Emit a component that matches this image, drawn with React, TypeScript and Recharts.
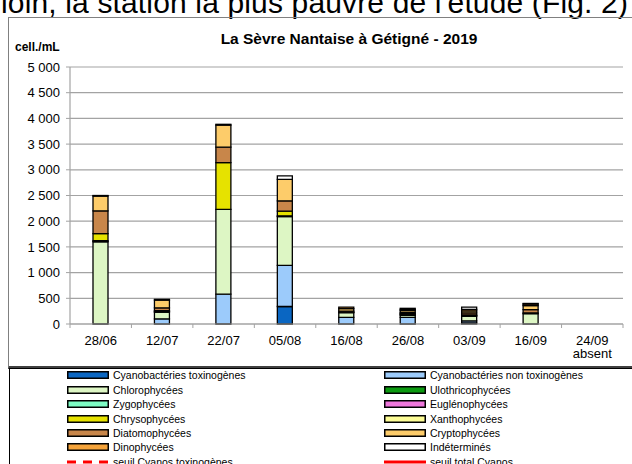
import React from 'react';
import { BarChart, Bar, XAxis, YAxis, CartesianGrid } from 'recharts';

const categories = ['28/06', '12/07', '22/07', '05/08', '16/08', '26/08', '03/09', '16/09', '24/09'];
const subLabels = ['', '', '', '', '', '', '', '', 'absent'];
const yTicks = [0, 500, 1000, 1500, 2000, 2500, 3000, 3500, 4000, 4500, 5000];

const cyanoTox = [0, 0, 0, 340, 0, 0, 20, 0, null];
const cyanoNonTox = [0, 100, 580, 800, 130, 130, 40, 0, null];
const chloro = [1600, 130, 1650, 950, 90, 40, 90, 200, null];
const uloth = [20, 10, 0, 15, 10, 20, 15, 15, null];
const zygo = [0, 0, 0, 0, 0, 0, 0, 0, null];
const eugleno = [0, 0, 0, 0, 0, 0, 0, 0, null];
const chryso = [140, 20, 910, 90, 0, 10, 10, 0, null];
const xantho = [0, 0, 0, 0, 0, 0, 0, 0, null];
const diatom = [440, 55, 300, 200, 20, 20, 40, 65, null];
const crypto = [290, 150, 430, 420, 50, 40, 40, 80, null];
const dino = [10, 15, 15, 0, 30, 25, 30, 30, null];
const indet = [0, 0, 0, 65, 0, 20, 45, 10, null];

const series = [
  { key: 'cyanoTox', name: 'Cyanobactéries toxinogènes', color: '#0a66c2', values: cyanoTox },
  { key: 'cyanoNonTox', name: 'Cyanobactéries non toxinogènes', color: '#9ccbfb', values: cyanoNonTox },
  { key: 'chloro', name: 'Chlorophycées', color: '#ddf6c4', values: chloro },
  { key: 'uloth', name: 'Ulothricophycées', color: '#0c9a10', values: uloth },
  { key: 'zygo', name: 'Zygophycées', color: '#7dfcc4', values: zygo },
  { key: 'eugleno', name: 'Euglénophycées', color: '#ee77dc', values: eugleno },
  { key: 'chryso', name: 'Chrysophycées', color: '#e6e200', values: chryso },
  { key: 'xantho', name: 'Xanthophycées', color: '#fcfc96', values: xantho },
  { key: 'diatom', name: 'Diatomophycées', color: '#c8864a', values: diatom },
  { key: 'crypto', name: 'Cryptophycées', color: '#fdcc6a', values: crypto },
  { key: 'dino', name: 'Dinophycées', color: '#f5a33a', values: dino },
  { key: 'indet', name: 'Indéterminés', color: '#ffffff', values: indet },
];

const thresholds = [
  { name: 'seuil Cyanos toxinogènes', dashed: true },
  { name: 'seuil total Cyanos', dashed: false },
];

const data = categories.map((c, i) => {
  const row: any = { cat: c, sub: subLabels[i] };
  series.forEach((s) => { row[s.key] = s.values[i]; });
  return row;
});

const FONT = '"Liberation Sans", Arial, sans-serif';
const W = 632;
const H = 464;
const M = { top: 67, right: 9, bottom: 110, left: 0 };
const Y_W = 70;
const plotW = W - M.left - M.right - Y_W;
const step = plotW / categories.length;
const GRID = '#a3a3a3';

const fmt = (v: number) => {
  const s = String(v);
  return s.length > 3 ? s.slice(0, s.length - 3) + ' ' + s.slice(-3) : s;
};

const XTick = (props: any) => {
  const { x, y, payload, index } = props;
  const sub = subLabels[index];
  const last = index === categories.length - 1;
  return (
    <g>
      <line x1={x - step / 2} x2={x - step / 2} y1={y} y2={y + 4} stroke={GRID} />
      {last && <line x1={x + step / 2} x2={x + step / 2} y1={y} y2={y + 4} stroke={GRID} />}
      <text x={x} y={y + 21} textAnchor="middle" fontSize={13} fontFamily={FONT} fill="#000">
        <tspan x={x}>{payload.value}</tspan>
        {sub && <tspan x={x} dy={13}>{sub}</tspan>}
      </text>
    </g>
  );
};

const legendRows: any[] = [];
const allItems: any[] = [...series.map((s) => ({ ...s, kind: 'rect' })), ...thresholds.map((t) => ({ ...t, kind: 'line' }))];
for (let i = 0; i < allItems.length; i += 2) legendRows.push([allItems[i], allItems[i + 1]]);

const Swatch = ({ item }: any) => (
  <svg width={42} height={8} style={{ display: 'block' }}>
    {item.kind === 'rect' ? (
      <rect x={0.75} y={0.75} width={40.5} height={6.5} fill={item.color} stroke="#000" strokeWidth={1.5} />
    ) : (
      <line x1={0} x2={42} y1={4} y2={4} stroke="#ff0000" strokeWidth={3} strokeDasharray={item.dashed ? '9 7' : undefined} />
    )}
  </svg>
);

export default function App() {
  return (
    <div style={{ position: 'absolute', left: 0, top: 0, width: W, height: H, overflow: 'hidden', background: '#fff', fontFamily: FONT }}>
      <div style={{ position: 'absolute', left: 1, top: -12.4, fontSize: 30, lineHeight: '30px', letterSpacing: 0.15, whiteSpace: 'nowrap', color: '#000' }}>
        loin, la station la plus pauvre de l'étude (Fig. 2)
      </div>
      <div style={{ position: 'absolute', left: 8, top: 17, width: 640, height: 348, borderLeft: '1px solid #808080', borderTop: '1px solid #808080', borderBottom: '3px solid #404040' }} />
      <div style={{ position: 'absolute', left: 9, top: 368, width: 640, height: 120, border: '1px solid #000' }} />
      <div style={{ position: 'absolute', left: 349, top: 39, transform: 'translate(-50%, -50%)', fontSize: 15.5, fontWeight: 'bold', whiteSpace: 'nowrap' }}>
        La Sèvre Nantaise à Gétigné - 2019
      </div>
      <div style={{ position: 'absolute', left: 15, top: 47, transform: 'translateY(-50%)', fontSize: 12, fontWeight: 'bold', whiteSpace: 'nowrap' }}>
        cell./mL
      </div>
      <div style={{ position: 'absolute', left: 0, top: 0 }}>
        <BarChart width={W} height={H} data={data} margin={M} barSize={15}>
          <CartesianGrid vertical={false} stroke={GRID} strokeWidth={1.2} />
          <XAxis dataKey="cat" axisLine={{ stroke: GRID, strokeWidth: 1.2 }} tickLine={false} tickSize={0} tickMargin={0} height={30} interval={0} tick={<XTick />} />
          <YAxis width={Y_W} domain={[0, 5000]} ticks={yTicks} tickFormatter={fmt} axisLine={{ stroke: GRID, strokeWidth: 1.2 }} tickLine={{ stroke: GRID }} tickSize={4} tickMargin={6} tick={{ fontSize: 13, fill: '#000', fontFamily: FONT }} interval={0} />
          {series.map((s) => (
            <Bar key={s.key} dataKey={s.key} name={s.name} stackId="a" fill={s.color} stroke="#000" strokeWidth={1.3} isAnimationActive={false} />
          ))}
        </BarChart>
      </div>
      {legendRows.map((row, r) => (
        <React.Fragment key={r}>
          {row.map((item: any, c: number) => item && (
            <div key={c} style={{ position: 'absolute', left: c === 0 ? 67 : 384, top: 375.3 + r * 14.4, transform: 'translateY(-50%)', display: 'flex', alignItems: 'center', fontSize: 10.5, whiteSpace: 'nowrap', color: '#000' }}>
              <Swatch item={item} />
              <span style={{ marginLeft: 4 }}>{item.name}</span>
            </div>
          ))}
        </React.Fragment>
      ))}
    </div>
  );
}
